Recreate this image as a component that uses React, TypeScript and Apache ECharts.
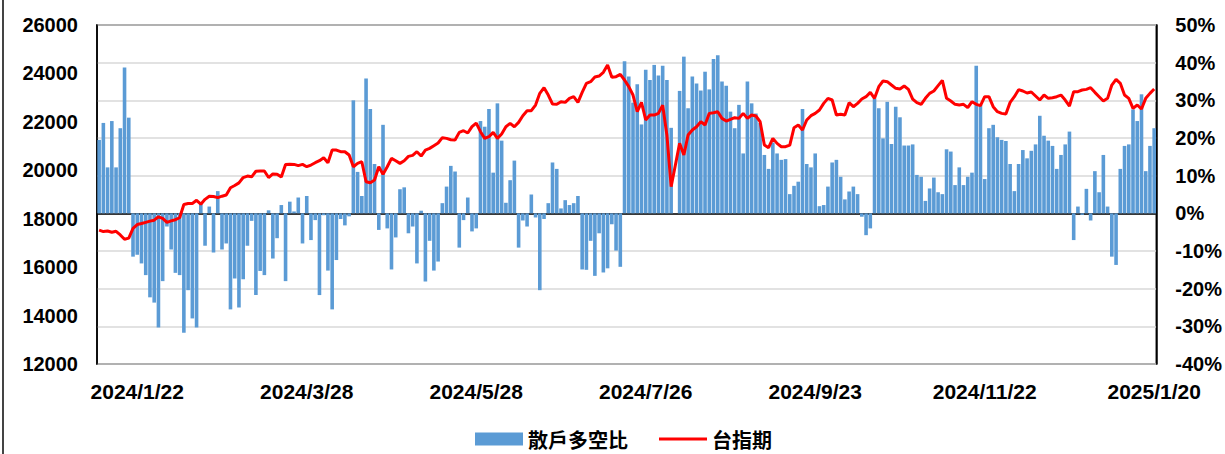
import React, { useEffect, useRef } from "react";
import * as echarts from "echarts";

// Trading-day categories: weekdays from START to END minus market holidays
const START_DATE = "2024-01-09";
const END_DATE = "2025-01-20";
const HOLIDAYS = [
  "2024-02-06", "2024-02-07", "2024-02-08", "2024-02-09", "2024-02-12", "2024-02-13", "2024-02-14",
  "2024-02-28", "2024-04-04", "2024-04-05", "2024-05-01", "2024-06-10", "2024-07-24", "2024-07-25",
  "2024-09-17", "2024-10-02", "2024-10-03", "2024-10-10", "2024-10-31", "2025-01-01",
];
const TICK_LABELS = ["2024/1/22", "2024/3/28", "2024/5/28", "2024/7/26", "2024/9/23", "2024/11/22", "2025/1/20"];

const BAR_NAME = "散戶多空比";
const LINE_NAME = "台指期";

// 散戶多空比 (%), right axis
const RETAIL_RATIO = [
  19.5, 24, 12.2, 24.5, 12.2, 22.6, 38.7, 25.4, -11.5, -11,
  -13.3, -16.4, -22.3, -23.7, -30.3, -18, -3.5, -9.6, -15.8, -16.4,
  -31.7, -20.4, -27.9, -30.3, 2.7, -8.6, 1.8, -10.4, 5.9, -9.6,
  -8, -25.5, -17.3, -25, -17.5, -8.6, -2, -21.7, -15.3, -16.4,
  0.8, -12, -6.6, 2.2, -18, 3.1, 0.5, 4.2, -8, 4.6,
  -7.1, -1.8, -21.7, -0.5, -15.2, -25.5, -12.4, -1.5, -3.2, -0.8,
  30, 11, 4.6, 35.8, 27.7, 13.1, -4.4, 23.5, -4, -14.9,
  -6.4, 6.4, 6.9, -5.3, -3.5, -13.3, 0.7, -18.1, -7.3, -15.2,
  -12.8, 2.7, 7.1, 12.6, 11.1, -9.1, -1.8, 4.2, -4.8, -4,
  24.5, 23, 27.7, 10.8, 29.2, 19.3, 2.8, 8.8, 14, -9.1,
  -1.9, -3.5, 5, -1.1, -20.4, -1.5, 2.7, 13.5, 11.8, 1.3,
  3.5, 2.2, 2.7, 4.6, -14.9, -15, -7.3, -16.6, -5.3, -15.7,
  -14.6, -2.9, -9.9, -14.2, 40.4, 36.3, 29.4, 34.3, 23.6, 38.1,
  35.4, 39.4, 36.6, 39.2, 35.4, 22.7, 0, 32.5, 41.6, 27.9,
  36.3, 34.5, 32.6, 37.6, 32.9, 41, 42, 35, 33.9, 27,
  22.6, 28.8, 15.9, 35, 29.2, 26.5, 24, 15.5, 11.8, 18.8,
  15.9, 14.2, 14.4, 5.1, 7.3, 8.4, 27.7, 13.1, 12.2, 15.9,
  1.9, 2.2, 7.1, 13.5, 14.2, 9.7, 3.7, 5.8, 7.1, 5.1,
  -0.9, -5.8, -4, 30.5, 27.9, 19.9, 29.6, 18.4, 28.3, 25.5,
  18, 18, 18.3, 10.2, 9.7, 3.3, 6.6, 9.5, 5.6, 5.1,
  17, 16.4, 7.5, 12.2, 7.5, 9.7, 10.8, 39.2, 28.8, 9.1,
  22.6, 23.5, 20.2, 19.5, 19.2, 13.1, 5.9, 13.1, 16.8, 14.6,
  16.6, 18.3, 25.9, 20.6, 19.3, 17.9, 11.8, 15.5, 18.3, 21.7,
  -7.1, 1.8, -0.4, 6.5, -1.9, 11.2, 5.6, 15.5, 1.8, -11.5,
  -13.7, 11.8, 17.9, 18.3, 27.6, 24.5, 31.6, 11.2, 17.9, 22.6,
];

// 台指期, left axis
const TAIEX_FUTURES = [
  17530, 17470, 17490, 17440, 17480, 17330, 17150, 17200, 17600, 17760,
  17800, 17850, 17900, 17940, 18080, 18010, 17850, 17910, 17960, 18040,
  18590, 18630, 18630, 18760, 18600, 18800, 18930, 18920, 18870, 18930,
  18980, 19280, 19370, 19480, 19700, 19760, 19730, 19960, 19970, 19970,
  19700, 19850, 19840, 19720, 20240, 20250, 20244, 20190, 20244, 20148,
  20217, 20313, 20396, 20520, 20313, 20836, 20836, 20767, 20767, 20630,
  20148, 20285, 20354, 19528, 19487, 19597, 20148, 19831, 20148, 20492,
  20396, 20285, 20396, 20575, 20616, 20767, 20589, 20836, 20905, 21015,
  21125, 21346, 21318, 21263, 21249, 21566, 21635, 21539, 21800, 21950,
  21594, 21318, 21387, 21566, 21318, 21497, 21800, 21938, 21800, 21979,
  22255, 22461, 22461, 22695, 23177, 23411, 23108, 22737, 22723, 22833,
  22805, 22970, 23039, 22805, 23219, 23590, 23659, 23852, 23893, 24045,
  24348, 23838, 23866, 23962, 23728, 23453, 23108, 22420, 22805, 22076,
  22282, 22282, 22350, 22690, 21450, 19322, 20217, 21114, 20631, 21457,
  21663, 21800, 22007, 21869, 22351, 22379, 22420, 22144, 22034, 22103,
  22172, 22144, 22351, 22144, 22282, 22241, 22007, 21043, 20933, 21318,
  21111, 20974, 20974, 21043, 21759, 21869, 21663, 22076, 22255, 22351,
  22489, 22764, 22971, 22902, 22282, 22310, 22282, 22792, 22626, 22764,
  22943, 23040, 23219, 22971, 23453, 23687, 23659, 23521, 23384, 23356,
  23480, 23342, 22943, 22792, 22723, 22971, 23177, 23274, 23494, 23714,
  22971, 22860, 22723, 22695, 22723, 22585, 22833, 22723, 22668, 23040,
  23040, 22626, 22420, 22351, 22324, 22805, 23040, 23329, 23274, 23191,
  23232, 23067, 22902, 23108, 22971, 22998, 23040, 23108, 22902, 22654,
  23246, 23246, 23315, 23342, 23411, 23219, 23040, 22860, 22971, 23521,
  23756, 23590, 23108, 22971, 22558, 22695, 22530, 22971, 23177, 23356,
];

function buildCategories(): string[] {
  const out: string[] = [];
  const hol = new Set(HOLIDAYS);
  const [sy, sm, sd] = START_DATE.split("-").map(Number);
  const [ey, em, ed] = END_DATE.split("-").map(Number);
  let t = Date.UTC(sy, sm - 1, sd);
  const end = Date.UTC(ey, em - 1, ed);
  while (t <= end) {
    const d = new Date(t);
    const dow = d.getUTCDay();
    const y = d.getUTCFullYear();
    const m = d.getUTCMonth() + 1;
    const dd = d.getUTCDate();
    const iso = `${y}-${String(m).padStart(2, "0")}-${String(dd).padStart(2, "0")}`;
    if (dow !== 0 && dow !== 6 && !hol.has(iso)) out.push(`${y}/${m}/${dd}`);
    t += 86400000;
  }
  return out;
}

export default function App() {
  const ref = useRef<HTMLDivElement>(null);

  useEffect(() => {
    if (!ref.current) return;
    const chart = echarts.init(ref.current, null, { renderer: "svg" });
    const categories = buildCategories();
    const labelFont = { fontFamily: "'Liberation Sans', Arial, sans-serif", fontWeight: "bold" as const, color: "#000" };
    const legendText = {
      fontFamily: "'Noto Sans CJK TC', sans-serif",
      fontWeight: "bold" as const,
      fontSize: 20,
      color: "#000",
    };

    chart.setOption({
      animation: false,
      backgroundColor: "#fff",
      grid: {
        left: 97,
        right: 68,
        top: 25,
        bottom: 90,
        show: true,
        borderColor: "#000",
        borderWidth: 1.5,
        containLabel: false,
      },
      legend: [
        {
          left: 470,
          top: 424,
          itemWidth: 48,
          itemHeight: 13,
          icon: "rect",
          textStyle: legendText,
          data: [BAR_NAME],
        },
        {
          left: 654,
          top: 424,
          itemWidth: 48,
          itemHeight: 3,
          icon: "rect",
          textStyle: legendText,
          data: [LINE_NAME],
        },
      ],
      xAxis: {
        type: "category",
        data: categories,
        boundaryGap: true,
        axisLine: { show: true, lineStyle: { color: "#000", width: 1.5 } },
        axisTick: { show: false },
        axisLabel: {
          ...labelFont,
          fontSize: 21,
          margin: 17,
          interval: (_i: number, v: string) => TICK_LABELS.includes(v),
        },
        splitLine: { show: false },
      },
      yAxis: [
        {
          type: "value",
          min: 12000,
          max: 26000,
          interval: 2000,
          position: "left",
          axisLine: { show: true, lineStyle: { color: "#000", width: 1.5 } },
          axisTick: { show: false },
          axisLabel: { ...labelFont, fontSize: 20, margin: 19, formatter: (v: number) => String(v) },
          splitLine: { show: false },
        },
        {
          type: "value",
          min: -40,
          max: 50,
          interval: 10,
          position: "right",
          axisLine: { show: true, lineStyle: { color: "#000", width: 1.5 } },
          axisTick: { show: false },
          axisLabel: { ...labelFont, fontSize: 20, margin: 19, formatter: "{value}%" },
          splitLine: { show: true, lineStyle: { color: "#D9D9D9", width: 1.5 } },
        },
      ],
      series: [
        {
          name: BAR_NAME,
          type: "bar",
          yAxisIndex: 1,
          data: RETAIL_RATIO,
          barCategoryGap: "15%",
          itemStyle: { color: "#5B9BD5" },
          z: 2,
        },
        {
          name: LINE_NAME,
          type: "line",
          yAxisIndex: 0,
          data: TAIEX_FUTURES,
          symbol: "none",
          showSymbol: false,
          lineStyle: { color: "#FF0000", width: 3 },
          itemStyle: { color: "#FF0000" },
          z: 3,
        },
      ],
      graphic: [
        {
          type: "line",
          shape: { x1: 3, y1: 0, x2: 3, y2: 454 },
          style: { stroke: "#444", lineWidth: 2 },
        },
      ],
    });

    return () => chart.dispose();
  }, []);

  return (
    <div
      ref={ref}
      style={{ position: "fixed", left: 0, top: 0, width: 1225, height: 454, background: "#fff" }}
    />
  );
}
